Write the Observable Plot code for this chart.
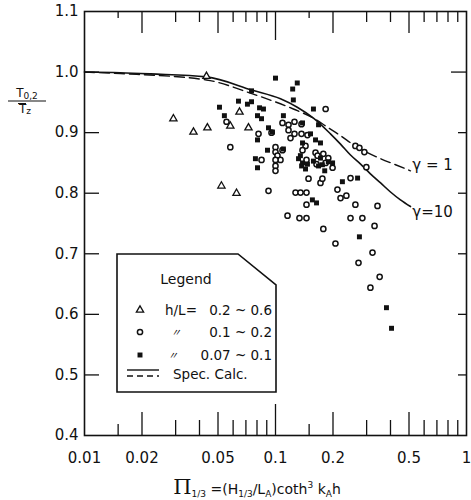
<!DOCTYPE html>
<html><head><meta charset="utf-8">
<script src="https://cdn.jsdelivr.net/npm/d3@7"></script>
<script src="https://cdn.jsdelivr.net/npm/@observablehq/plot@0.6"></script>
<style>body{margin:0;background:#fff} svg{display:block}</style>
</head><body><div id="chart"></div>
<script>
// ---- data ----
const triangles = [[0.0435,0.993],[0.0292,0.923],[0.0372,0.901],[0.044,0.908],[0.0648,0.934],[0.058,0.911],[0.0722,0.908],[0.0521,0.812],[0.0625,0.800]];
const circles = [[0.183,0.939],[0.0554,0.918],[0.058,0.876],[0.0815,0.898],[0.1088,0.916],[0.117,0.913],[0.1257,0.918],[0.1368,0.914],[0.117,0.904],[0.1257,0.898],[0.1368,0.898],[0.147,0.896],[0.1198,0.891],[0.0953,0.900],[0.100,0.876],[0.1088,0.871],[0.100,0.868],[0.1024,0.862],[0.1062,0.855],[0.100,0.855],[0.100,0.845],[0.100,0.837],[0.0845,0.855],[0.1436,0.878],[0.1385,0.871],[0.1453,0.855],[0.162,0.867],[0.166,0.862],[0.178,0.865],[0.189,0.858],[0.183,0.850],[0.199,0.842],[0.164,0.848],[0.1489,0.824],[0.172,0.817],[0.176,0.824],[0.247,0.825],[0.262,0.878],[0.275,0.875],[0.292,0.868],[0.299,0.843],[0.211,0.806],[0.219,0.792],[0.235,0.796],[0.0919,0.804],[0.1273,0.801],[0.1352,0.801],[0.1453,0.801],[0.1453,0.781],[0.1156,0.763],[0.1335,0.759],[0.1453,0.759],[0.178,0.741],[0.206,0.717],[0.262,0.781],[0.342,0.779],[0.247,0.759],[0.285,0.759],[0.330,0.746],[0.322,0.702],[0.272,0.685],[0.351,0.662],[0.314,0.644]];
const squares = [[0.100,0.990],[0.130,0.982],[0.123,0.972],[0.124,0.954],[0.0749,0.969],[0.0509,0.942],[0.064,0.952],[0.0713,0.947],[0.0749,0.951],[0.0825,0.941],[0.0865,0.939],[0.054,0.928],[0.0805,0.928],[0.0845,0.923],[0.110,0.928],[0.158,0.939],[0.168,0.913],[0.1385,0.916],[0.0919,0.908],[0.0964,0.901],[0.0805,0.888],[0.1385,0.883],[0.162,0.888],[0.172,0.883],[0.0908,0.871],[0.110,0.873],[0.0785,0.857],[0.0805,0.842],[0.135,0.862],[0.132,0.857],[0.1385,0.850],[0.137,0.845],[0.1436,0.840],[0.147,0.848],[0.158,0.853],[0.168,0.845],[0.176,0.847],[0.181,0.837],[0.172,0.858],[0.189,0.852],[0.199,0.850],[0.224,0.819],[0.269,0.825],[0.156,0.789],[0.164,0.784],[0.275,0.728],[0.381,0.611],[0.405,0.577],[0.1525,0.898]];
const solidX = [0.01,0.0154,0.0222,0.0435,0.0758,0.1062,0.130,0.158,0.194,0.219,0.247,0.279,0.314,0.355,0.400,0.451,0.509];
const solidY = [1.0,0.999,0.997,0.992,0.970,0.956,0.942,0.924,0.898,0.881,0.863,0.848,0.832,0.817,0.802,0.789,0.778];
const dashX = [0.01,0.0154,0.0435,0.0758,0.124,0.158,0.187,0.219,0.256,0.303,0.355,0.425,0.509];
const dashY = [1.0,0.9975,0.987,0.964,0.939,0.924,0.909,0.895,0.880,0.867,0.857,0.847,0.837];
const gammaText = ["γ = 1", "γ=10"];
const gammaX = [0.52, 0.52];
const gammaY = [0.846, 0.769];
const xLabelTicks = [0.01,0.02,0.05,0.1,0.2,0.5,1];
const xBigTicks = [0.02,0.05,0.2,0.5];
const xDecadeTicks = [0.1];
const xMinorTicks = [0.03,0.04,0.06,0.07,0.08,0.09,0.3,0.4,0.6,0.7,0.8,0.9];
const xHalfTicks = [0.015,0.15];
const yLabelTicks = [0.4,0.5,0.6,0.7,0.8,0.9,1.0,1.1];
const yInnerTicks = [0.5,0.6,0.7,0.8,0.9,1.0];
const legendTitle = "Legend";
const legendRows = [["h/L=", "0.2 ~ 0.6"], ["〃", "0.1 ~ 0.2"], ["〃", "0.07 ~ 0.1"]];
const legendLineLabel = "Spec. Calc.";

// ---- layout ----
const W = 471, H = 500, mL = 84, mR = 5, mT = 11, mB = 65;
const iW = W - mL - mR, iH = H - mT - mB;
const ink = "#111";
const solid = solidX.map((x, i) => ({x, y: solidY[i]}));
const dashed = dashX.map((x, i) => ({x, y: dashY[i]}));
const gam = gammaText.map((t, i) => ({t, x: gammaX[i], y: gammaY[i]}));
const tk = {stroke: ink, strokeWidth: 1.3};

const plot = Plot.plot({
  width: W, height: H, marginLeft: mL, marginRight: mR, marginTop: mT, marginBottom: mB,
  style: {fontFamily: "'DejaVu Sans', sans-serif", fontSize: "15px", color: ink, background: "white", overflow: "visible"},
  x: {type: "log", domain: [0.01, 1], ticks: xLabelTicks, tickSize: 0, tickPadding: 17, tickFormat: d => String(d), label: null},
  y: {domain: [0.4, 1.1], ticks: yLabelTicks, tickSize: 0, tickPadding: 6, tickFormat: d3.format(".1f"), label: null},
  marks: [
    Plot.ruleX(xBigTicks, {x: d => d, insetTop: iH - 23, ...tk}),
    Plot.ruleX(xDecadeTicks, {x: d => d, insetTop: iH - 31, ...tk}),
    Plot.ruleX(xMinorTicks, {x: d => d, insetTop: iH - 15, ...tk}),
    Plot.ruleX(xHalfTicks, {x: d => d, insetTop: iH - 11, ...tk}),
    Plot.ruleX(xBigTicks, {x: d => d, insetBottom: iH - 22, ...tk}),
    Plot.ruleX(xDecadeTicks, {x: d => d, insetBottom: iH - 29, ...tk}),
    Plot.ruleX(xMinorTicks, {x: d => d, insetBottom: iH - 11, ...tk}),
    Plot.ruleX(xHalfTicks, {x: d => d, insetBottom: iH - 7, ...tk}),
    Plot.ruleY(yInnerTicks, {y: d => d, insetRight: iW - 15, ...tk}),
    Plot.ruleY([1.0], {y: d => d, insetLeft: iW - 15, ...tk}),
    Plot.ruleY(yInnerTicks.filter(d => d < 1), {y: d => d, insetLeft: iW - 8, ...tk}),
    Plot.frame({stroke: ink, strokeWidth: 1.6}),
    Plot.line(dashed, {x: "x", y: "y", curve: "monotone-x", stroke: ink, strokeWidth: 1.4, strokeDasharray: "10,5"}),
    Plot.line(solid, {x: "x", y: "y", curve: "monotone-x", stroke: ink, strokeWidth: 1.6}),
    Plot.text(gam, {x: "x", y: "y", text: "t", textAnchor: "start", fontSize: 15, fill: ink}),
    Plot.dot(triangles, {x: d => d[0], y: d => d[1], symbol: "triangle", r: 2.7, fill: "white", stroke: ink, strokeWidth: 1.3}),
    Plot.dot(circles, {x: d => d[0], y: d => d[1], symbol: "circle", r: 2.6, fill: "white", stroke: ink, strokeWidth: 1.5}),
    Plot.dot(squares, {x: d => d[0], y: d => d[1], symbol: "square", r: 2.8, fill: ink, stroke: "none"})
  ]
});
document.getElementById("chart").appendChild(plot);

// ---- annotations: legend box, axis titles ----
const svg = d3.select(plot);
const g = svg.append("g").attr("font-family", "'DejaVu Sans', sans-serif").attr("fill", ink).attr("text-anchor", "start");
g.append("path").attr("d", "M117,254H238L276,285V392H117Z").attr("fill", "white").attr("stroke", ink).attr("stroke-width", 1.6);
g.append("text").attr("x", 186).attr("y", 279).attr("dy", "0.35em").attr("text-anchor", "middle").attr("font-size", 14).text(legendTitle);
const rowY = [310, 332, 355];
const symArea = [Math.PI * 2.7 * 2.7, Math.PI * 2.6 * 2.6, Math.PI * 2.8 * 2.8];
const syms = [d3.symbolTriangle, d3.symbolCircle, d3.symbolSquare];
legendRows.forEach((r, i) => {
  const p = g.append("path").attr("transform", `translate(140,${rowY[i]})`).attr("d", d3.symbol(syms[i], symArea[i])());
  if (i < 2) p.attr("fill", "white").attr("stroke", ink).attr("stroke-width", i === 0 ? 1.3 : 1.5);
  else p.attr("fill", ink);
  const lab = g.append("text").attr("x", i === 0 ? 165 : (i === 1 ? 171 : 168)).attr("y", rowY[i]).attr("dy", "0.35em").attr("text-anchor", "start").text(r[0]);
  if (i === 0) lab.attr("font-size", 13.5);
  else lab.attr("font-size", 10).attr("font-family", "'Noto Sans CJK JP'").attr("font-style", "italic");
  g.append("text").attr("x", 272).attr("y", rowY[i]).attr("dy", "0.35em").attr("text-anchor", "end").attr("font-size", 13.5).text(r[1]);
});
g.append("line").attr("x1", 127).attr("x2", 159).attr("y1", 370).attr("y2", 370).attr("stroke", ink).attr("stroke-width", 1.4);
g.append("line").attr("x1", 127).attr("x2", 159).attr("y1", 376).attr("y2", 376).attr("stroke", ink).attr("stroke-width", 1.3).attr("stroke-dasharray", "6,4");
g.append("text").attr("x", 173).attr("y", 374).attr("dy", "0.35em").attr("text-anchor", "start").attr("font-size", 13.5).text(legendLineLabel);

// x title: Π1/3 =(H1/3/LA)coth³ kAh
const xt = g.append("text").attr("x", 257).attr("y", 494).attr("text-anchor", "middle").attr("font-size", 14);
const parts = [["Π", 0, 21, "'DejaVu Serif', serif"], ["1/3", 3, 9], [" =(H", -3, 14], ["1/3", 3, 9], ["/L", -3, 14], ["A", 3, 9], [")coth", -3, 14], ["3", -6, 9], [" k", 6, 14], ["A", 3, 9], ["h", -3, 14]];
parts.forEach(([t, dy, fs, ff]) => {
  const s = xt.append("tspan").attr("dy", dy).attr("font-size", fs).text(t);
  if (ff) s.attr("font-family", ff);
});
// y title: T0,2 / T̄z
const yt = g.append("g").attr("font-size", 12);
const num = yt.append("text").attr("x", 27).attr("y", 97).attr("text-anchor", "middle");
num.append("tspan").text("T");
num.append("tspan").attr("font-size", 9).attr("dy", 2).text("0,2");
yt.append("line").attr("x1", 8).attr("x2", 46).attr("y1", 101).attr("y2", 101).attr("stroke", ink).attr("stroke-width", 1.2);
const den = yt.append("text").attr("x", 25).attr("y", 113).attr("text-anchor", "middle");
den.append("tspan").text("T");
den.append("tspan").attr("font-size", 9).attr("dy", 1).text("z");
yt.append("line").attr("x1", 18).attr("x2", 26).attr("y1", 103.5).attr("y2", 103.5).attr("stroke", ink).attr("stroke-width", 1);
</script>
</body></html>
